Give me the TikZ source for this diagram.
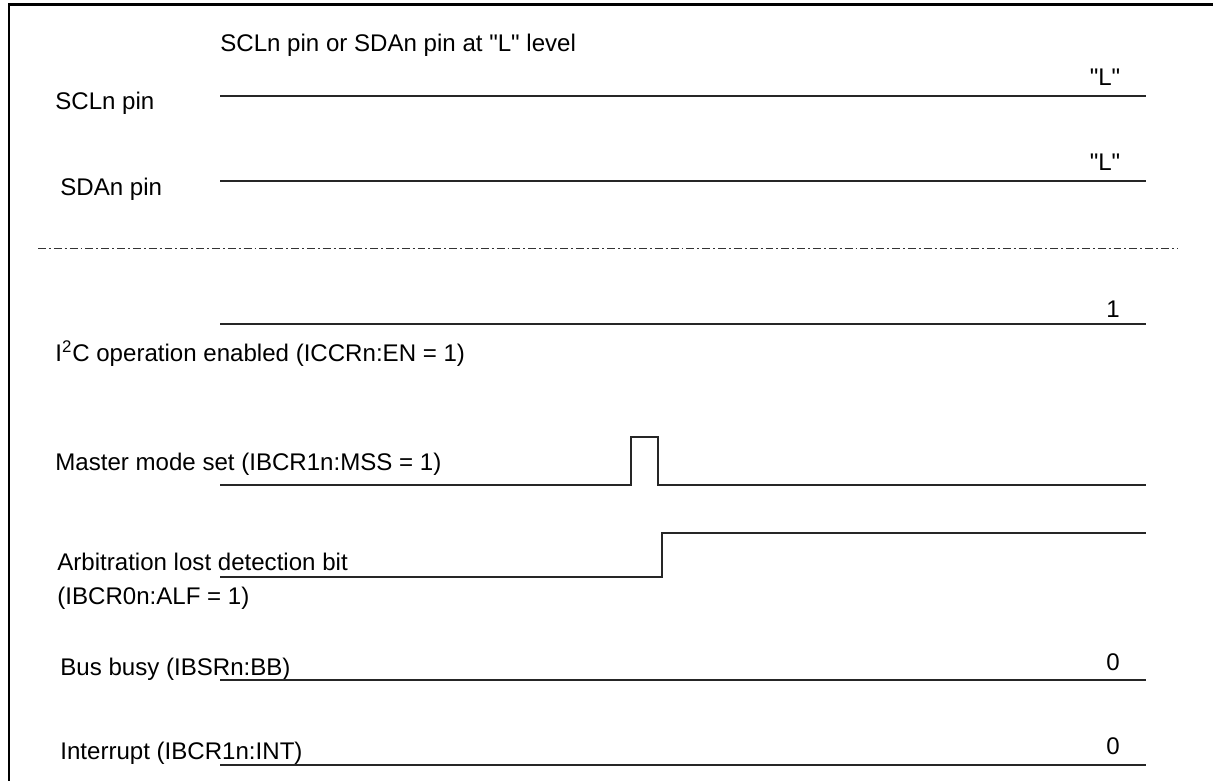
\documentclass[tikz,border=0pt]{standalone}
\usepackage{fontspec}
\setmainfont{Liberation Sans}
\usetikzlibrary{positioning}

\begin{document}
\begin{tikzpicture}[x=0.2mm,y=-0.2mm,
    wave/.style={line width=1.4pt,black!85,line join=miter},
    sig/.style={anchor=base west,inner sep=0pt,font=\fontsize{13.7}{16}\selectfont},
    lvl/.style={anchor=base,inner sep=0pt,font=\fontsize{13.7}{16}\selectfont}]
    \useasboundingbox (0,0) rectangle (1213,781);
    % frame
    \draw[line width=1.7pt] (9,781)--(9,5)--(1213,5);
    \node[sig] (title) at (220,52) {SCLn pin or SDAn pin at \textquotedbl L\textquotedbl\ level};
    % bus pins
    \node[sig] (scl) at (55,110) {SCLn pin};
    \draw[wave] (220,96)--(1146,96);
    \node[lvl] (scllvl) at (1105,86) {\textquotedbl L\textquotedbl};
    \node[sig] (sda) at (60,196) {SDAn pin};
    \draw[wave] (220,181)--(1146,181);
    \node[lvl] (sdalvl) at (1105,171) {\textquotedbl L\textquotedbl};
    \draw[line width=0.5pt,black!80,dash pattern=on 4.5pt off 1.7pt on 1.1pt off 1.7pt] (38,248)--(1178,248);
    % registers
    \draw[wave] (220,324)--(1146,324);
    \node[lvl] (enlvl) at (1113,318) {1};
    \node[sig] (en) at (55,362) {I\textsuperscript{2}C operation enabled (ICCRn:EN = 1)};
    \node[sig] (mss) at (55,470) {Master mode set (IBCR1n:MSS = 1)};
    \draw[wave] (220,485)--(631,485)--(631,437)--(658,437)--(658,485)--(1146,485);
    \node[sig] (alf) at (57,570) {Arbitration lost detection bit};
    \node[sig] (alfreg) at (57,604) {(IBCR0n:ALF = 1)};
    \draw[wave] (220,577)--(662,577)--(662,533)--(1146,533);
    \node[sig] (bb) at (60,675) {Bus busy (IBSRn:BB)};
    \draw[wave] (220,680)--(1146,680);
    \node[lvl] (bblvl) at (1113,670) {0};
    \node[sig] (int) at (60,759) {Interrupt (IBCR1n:INT)};
    \draw[wave] (220,765)--(1146,765);
    \node[lvl] (intlvl) at (1113,754) {0};
\end{tikzpicture}
\end{document}
